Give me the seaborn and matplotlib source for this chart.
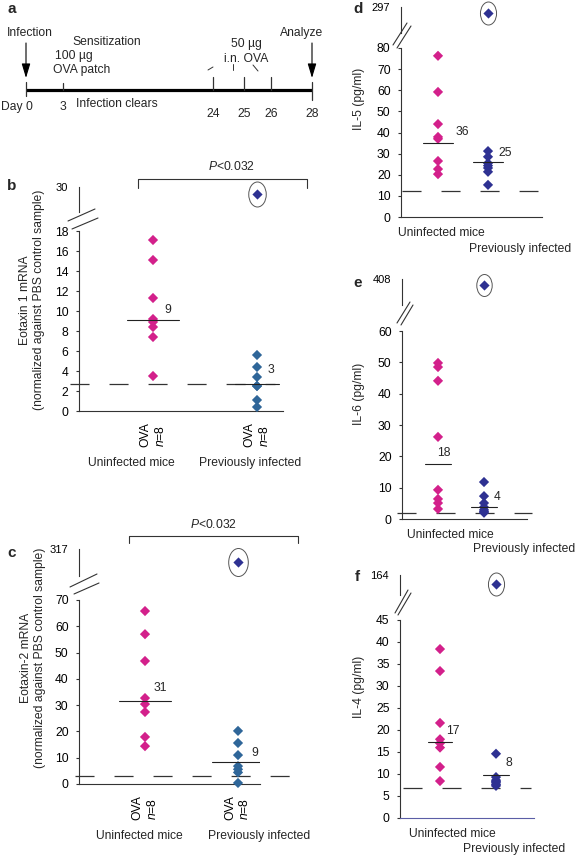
# Dot plots of cytokine / eotaxin levels with a broken y axis, plus timeline
import numpy as np
import pandas as pd
import matplotlib.pyplot as plt
import matplotlib.path as mpath
from matplotlib.transforms import Affine2D
import seaborn as sns

# Data
groups = ["Uninfected mice", "Previously infected"]

b_uninfected = [17.1, 15.1, 11.3, 9.2, 8.9, 8.4, 7.4, 3.5]
b_previous = [28.6, 5.6, 4.4, 3.4, 2.5, 2.5, 1.1, 0.4]
b_medians = [9.1, 2.7]
b_median_text = ["9", "3"]
b_baseline = 2.7

c_uninfected = [65.8, 57.0, 46.8, 32.7, 30.4, 27.4, 17.9, 14.4]
c_previous = [304, 20.2, 15.6, 11.0, 6.8, 5.6, 4.4, 0.4]
c_medians = [31.6, 8.4]
c_median_text = ["31", "9"]
c_baseline = 3.0

d_uninfected = [76.3, 59.2, 44.0, 37.9, 37.0, 26.5, 22.7, 20.3]
d_previous = [291, 31.2, 28.5, 25.5, 24.3, 23.2, 21.4, 15.2]
d_medians = [35.0, 25.9]
d_median_text = ["36", "25"]
d_baseline = 12.3

e_uninfected = [49.8, 48.5, 44.1, 26.2, 9.3, 6.4, 5.1, 3.2]
e_previous = [402, 11.8, 7.3, 5.1, 3.8, 2.9, 2.4, 2.0]
e_medians = [17.6, 3.9]
e_median_text = ["18", "4"]
e_baseline = 2.0

f_uninfected = [38.4, 33.4, 21.6, 17.9, 17.0, 16.0, 11.6, 8.4]
f_previous = [155, 14.6, 9.3, 8.6, 8.3, 8.0, 7.6, 7.3]
f_medians = [17.2, 9.8]
f_median_text = ["17", "8"]
f_baseline = 6.8

timeline_labels = ["Day 0", "3", "24", "25", "26", "28"]

MAGENTA = "#d3208b"
STEEL = "#2f6699"
NAVY = "#2e3192"
LINE = "#333333"

sns.set_style("ticks")
plt.rcParams["font.family"] = ["Liberation Sans", "DejaVu Sans"]
plt.rcParams["font.size"] = 8.7
plt.rcParams["mathtext.fontset"] = "custom"
plt.rcParams["mathtext.rm"] = "Liberation Sans"
plt.rcParams["mathtext.it"] = "Liberation Sans:italic"
plt.rcParams["lines.scale_dashes"] = False
plt.rcParams["axes.edgecolor"] = LINE
plt.rcParams["axes.linewidth"] = 0.8
plt.rcParams["xtick.color"] = LINE
plt.rcParams["ytick.color"] = LINE
plt.rcParams["xtick.labelcolor"] = "black"
plt.rcParams["ytick.labelcolor"] = "black"

W, H = 576, 859
fig = plt.figure(figsize=(W / 100, H / 100), dpi=100)


def rect(l, t, r, b):
    return [l / W, 1 - b / H, (r - l) / W, (b - t) / H]


# overlay in pixel units for labels, brackets, break marks and the timeline
ov = fig.add_axes([0, 0, 1, 1])
ov.set_xlim(0, W)
ov.set_ylim(H, 0)
ov.axis("off")

ELLIPSE = Affine2D().scale(0.7, 1).transform_path(mpath.Path.unit_circle())


def dot_panel(uninf, prev, medians, median_text, baseline, top_value, top_low,
              ymax, ystep, lay, prev_color, ova_ticks=False):
    l, t, r, b = lay["box"]
    g0, g1 = lay["gx"]
    u = g1 - g0

    def to_x(px):
        return (px - g0) / u

    xlim = (to_x(l), to_x(r))
    df = pd.DataFrame({
        "group": [groups[0]] * len(uninf) + [groups[1]] * len(prev),
        "value": uninf + prev,
    })
    low = df[df["value"] <= ymax]
    high = df[df["value"] > ymax]

    # lower (main) part of the axis
    ax = fig.add_axes(rect(l, t, r, b))
    ax.patch.set_alpha(0)
    sns.stripplot(data=low, x="group", y="value", hue="group", order=groups,
                  hue_order=groups, palette={groups[0]: MAGENTA, groups[1]: prev_color},
                  jitter=False, marker="D", size=5.2, linewidth=0, legend=False,
                  ax=ax, zorder=3, clip_on=False)
    ax.set_xlim(xlim)
    ax.set_ylim(0, ymax)
    ax.set_yticks(np.arange(0, ymax + 1, ystep))
    ax.set_xlabel("")
    ax.set_ylabel("")
    sns.despine(ax=ax)
    ax.spines["bottom"].set_color(lay.get("xaxis_color", LINE))
    ax.tick_params(axis="y", length=2.5, width=0.8, pad=5)
    if ova_ticks:
        ax.set_xticks([0, 1], ["OVA\n$n$=8"] * 2, rotation=90, va="top",
                      ha="center", multialignment="left")
        ax.tick_params(axis="x", length=0, pad=8)
    else:
        ax.set_xticks([])

    ax.plot([to_x(lay["dash"][0]), to_x(lay["dash"][1])], [baseline, baseline],
            color=LINE, lw=0.9, dashes=(13.7, 14.4), clip_on=False, zorder=2)
    for i, (m, txt) in enumerate(zip(medians, median_text)):
        half = lay["half"][i] / u
        ax.plot([i - half, i + half], [m, m], color="#222222", lw=0.8, zorder=4)
        dx, dy = lay["offs"][i]
        ax.annotate(txt, (i, m), xytext=(dx * 0.72, dy * 0.72),
                    textcoords="offset points", ha="left", va="center")

    # upper part holding the outlier
    axt = fig.add_axes(rect(l, lay["top"][0], r, lay["top"][1]))
    axt.patch.set_alpha(0)
    sns.stripplot(data=high, x="group", y="value", hue="group", order=groups,
                  hue_order=groups, palette={groups[0]: MAGENTA, groups[1]: NAVY},
                  jitter=False, marker="D", size=5.2, linewidth=0, legend=False,
                  ax=axt, zorder=3, clip_on=False)
    axt.set_xlim(xlim)
    axt.set_ylim(top_low, top_value)
    axt.set_yticks([top_value])
    axt.set_xticks([])
    axt.set_xlabel("")
    axt.set_ylabel("")
    for s in ["top", "right", "bottom"]:
        axt.spines[s].set_visible(False)
    axt.tick_params(axis="y", length=0, pad=8, labelsize=8)
    xs = [groups.index(g) for g in high["group"]]
    axt.plot(xs, high["value"], ls="none", marker=ELLIPSE, ms=lay["ell"] * 0.72,
             mfc="none", mec="#555555", mew=0.7, clip_on=False)
    return ax, axt


# ---- panel b ----
dot_panel(b_uninfected, b_previous, b_medians, b_median_text, b_baseline, 30, 25, 18, 2,
          dict(box=(79, 231, 283, 411), top=(187, 212), gx=(153, 257), dash=(70, 275),
               half=(26, 22), offs=[(11, 10), (11, 14)], ell=25),
          STEEL, ova_ticks=True)

# ---- panel c ----
dot_panel(c_uninfected, c_previous, c_medians, c_median_text, c_baseline, 317, 290, 70, 10,
          dict(box=(79, 600, 260, 784), top=(549, 576), gx=(145, 238), dash=(75, 290),
               half=(26, 26), offs=[(9, 13), (13, 9)], ell=28),
          STEEL, ova_ticks=True)

# ---- panel d ----
dot_panel(d_uninfected, d_previous, d_medians, d_median_text, d_baseline, 297, 271, 80, 10,
          dict(box=(401, 48, 542, 217), top=(7, 33), gx=(438, 488), dash=(402, 538),
               half=(15, 15), offs=[(18, 11), (10, 9)], ell=23),
          NAVY)

# ---- panel e ----
dot_panel(e_uninfected, e_previous, e_medians, e_median_text, e_baseline, 408, 382, 60, 10,
          dict(box=(402, 331, 527, 519), top=(279, 305), gx=(438, 484), dash=(397, 532),
               half=(13, 13), offs=[(-1, 11), (10, 10)], ell=22),
          NAVY)

# ---- panel f ----
dot_panel(f_uninfected, f_previous, f_medians, f_median_text, f_baseline, 164, 144, 45, 5,
          dict(box=(400, 620, 534, 818), top=(575, 595), gx=(440, 496), dash=(403, 531),
               half=(12, 13), offs=[(6, 11), (9, 12)], ell=23, xaxis_color="#5b5ea6"),
          NAVY)

# axis breaks
breaks = [
    [(68, 221, 95, 209), (72, 229, 98, 218)],
    [(70, 587, 97, 574), (74, 594, 99, 583)],
    [(393, 45, 407, 23), (397, 48, 411, 26)],
    [(397, 323, 410, 302), (401, 325, 413, 305)],
    [(395, 613, 408, 590), (398, 615, 411, 593)],
]
for pair in breaks:
    for x0, y0, x1, y1 in pair:
        ov.plot([x0, x1], [y0, y1], color=LINE, lw=0.8)

# y axis titles
ov.text(32, 300, "Eotaxin 1 mRNA\n(normalized against PBS control sample)", rotation=90,
        ha="center", va="center", multialignment="center")
ov.text(33, 658, "Eotaxin-2 mRNA\n(normalized against PBS control sample)", rotation=90,
        ha="center", va="center", multialignment="center")
ov.text(359, 99, "IL-5 (pg/ml)", rotation=90, ha="center", va="center")
ov.text(359, 394, "IL-6 (pg/ml)", rotation=90, ha="center", va="center")
ov.text(359, 687, "IL-4 (pg/ml)", rotation=90, ha="center", va="center")

# group names under the axes
for (x, y), name in zip([(131, 463), (250, 463)], groups):
    ov.text(x, y, name, ha="center", va="center")
for (x, y), name in zip([(139, 836), (259, 836)], groups):
    ov.text(x, y, name, ha="center", va="center")
for (x, y), name in zip([(441, 233), (520, 249)], groups):
    ov.text(x, y, name, ha="center", va="center")
for (x, y), name in zip([(450, 535), (524, 549)], groups):
    ov.text(x, y, name, ha="center", va="center")
for (x, y), name in zip([(452, 834), (514, 849)], groups):
    ov.text(x, y, name, ha="center", va="center")

# significance brackets
for x0, x1, yb, yt, xt in [(138, 307, 179, 188, 231), (129, 298, 536, 543, 213)]:
    ov.plot([x0, x0, x1, x1], [yt, yb, yb, yt], color=LINE, lw=0.8)
    ov.text(xt, yb - 12, "$P$<0.032", ha="center", va="center")

# panel letters
for letter, x, y in [("a", 12, 9), ("b", 12, 186), ("c", 12, 553),
                     ("d", 358, 9), ("e", 358, 283), ("f", 357, 577)]:
    ov.text(x, y, letter, ha="center", va="center", fontsize=11, fontweight="bold")

# ---- panel a: schematic timeline ----
day_x = [26, 63, 213, 244, 271, 312]
ov.plot([day_x[0], day_x[-1]], [90, 90], color="black", lw=2.3, solid_capstyle="butt")
ov.plot([day_x[0]] * 2, [82, 96], color=LINE, lw=0.9)
ov.plot([day_x[-1]] * 2, [82, 100], color=LINE, lw=0.9)
ov.plot([day_x[1]] * 2, [83, 90], color=LINE, lw=0.9)
for x in day_x[2:5]:
    ov.plot([x, x], [77, 90], color=LINE, lw=0.9)
for x in [day_x[0], day_x[-1]]:
    ov.annotate("", xy=(x, 78), xytext=(x, 43),
                arrowprops=dict(arrowstyle="-|>,head_length=1.0,head_width=0.3",
                                color="black", lw=0.8, shrinkA=0, shrinkB=0))
ov.plot([208, 213], [70, 67], color=LINE, lw=0.7)
ov.plot([233, 233], [64, 70], color=LINE, lw=0.7)
ov.plot([253, 258], [65, 71], color=LINE, lw=0.7)

ov.text(30, 33, "Infection", ha="center", va="center")
ov.text(302, 33, "Analyze", ha="center", va="center")
ov.text(107, 42, "Sensitization", ha="center", va="center")
ov.text(55, 56, "100 µg", ha="left", va="center")
ov.text(53, 70, "OVA patch", ha="left", va="center")
ov.text(246, 44, "50 µg", ha="center", va="center")
ov.text(246, 59, "i.n. OVA", ha="center", va="center")
ov.text(117, 104, "Infection clears", ha="center", va="center")
ov.text(1, 107, timeline_labels[0], ha="left", va="center")
ov.text(day_x[1], 107, timeline_labels[1], ha="center", va="center")
for x, lab in zip(day_x[2:], timeline_labels[2:]):
    ov.text(x, 114, lab, ha="center", va="center")

fig.savefig("out.png", dpi=100)
